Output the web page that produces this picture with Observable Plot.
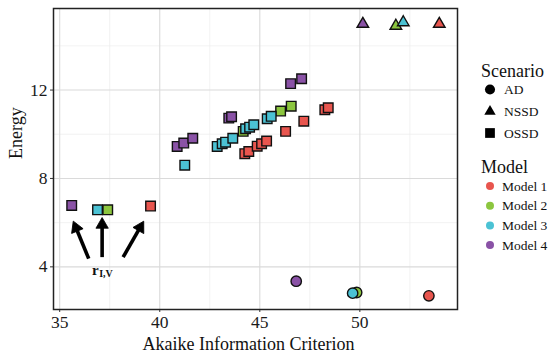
<!DOCTYPE html>
<html>
<head>
<meta charset="utf-8">
<script src="https://cdn.jsdelivr.net/npm/d3@7"></script>
<script src="https://cdn.jsdelivr.net/npm/@observablehq/plot@0.6"></script>
<style>
  body { margin: 0; background: white; }
  #wrap { position: relative; width: 550px; height: 361px; }
  #legend { position: absolute; left: 0; top: 0; }
</style>
</head>
<body>
<div id="wrap"></div>
<script>
// ---- data ----
const models = ["Model 1", "Model 2", "Model 3", "Model 4"];
const scenarios = ["AD", "NSSD", "OSSD"];
const colors = ["#E8554E", "#8CC63F", "#4BC2D4", "#8A52A6"];

// AD (circles), one per model
const adX = [53.45, 49.84, 49.64, 46.82];
const adY = [2.69, 2.84, 2.81, 3.35];
// NSSD (triangles), one per model
const nssdX = [53.97, 51.80, 52.17, 50.15];
const nssdY = [14.99, 14.90, 15.06, 14.99];
// OSSD (squares), per model
const ossd1X = [39.54, 44.25, 44.45, 44.87, 45.09, 45.34, 46.29, 47.20, 48.25, 48.42];
const ossd1Y = [6.75, 9.12, 9.22, 9.46, 9.57, 9.69, 10.13, 10.59, 11.11, 11.20];
const ossd2X = [37.40, 44.17, 46.04, 46.57];
const ossd2Y = [6.58, 10.13, 11.05, 11.27];
const ossd3X = [36.89, 41.25, 42.87, 43.12, 43.29, 43.65, 44.29, 44.49, 44.70, 45.37, 45.57];
const ossd3Y = [6.58, 8.60, 9.45, 9.57, 9.64, 9.82, 10.25, 10.32, 10.43, 10.70, 10.81];
const ossd4X = [35.60, 40.87, 41.20, 41.65, 43.45, 43.59, 46.54, 47.09];
const ossd4Y = [6.78, 9.45, 9.60, 9.82, 10.73, 10.79, 12.29, 12.51];

// x / y ticks
const xTicks = [35, 40, 45, 50];
const xMinor = [37.5, 42.5, 47.5, 52.5];
const yTicks = [4, 8, 12];
const yMinor = [6, 10, 14];

// annotation arrows (tail -> tip) and label
const arrowTailX = [36.45, 37.12, 38.17];
const arrowTailY = [4.37, 4.44, 4.44];
const arrowTipX = [35.70, 37.12, 39.17];
const arrowTipY = [6.02, 6.18, 6.02];
const labelX = 36.95, labelY = 3.87;

// ---- build table ----
const rows = [];
models.forEach((m, i) => rows.push({x: adX[i], y: adY[i], model: m, scenario: "AD"}));
models.forEach((m, i) => rows.push({x: nssdX[i], y: nssdY[i], model: m, scenario: "NSSD"}));
[[ossd1X, ossd1Y], [ossd2X, ossd2Y], [ossd3X, ossd3Y], [ossd4X, ossd4Y]].forEach(([xs, ys], i) => {
  xs.forEach((x, j) => rows.push({x, y: ys[j], model: models[i], scenario: "OSSD"}));
});
const ad = rows.filter(d => d.scenario === "AD");
const nssd = rows.filter(d => d.scenario === "NSSD");
const ossd = rows.filter(d => d.scenario === "OSSD");

const W = 550, H = 361, mL = 53, mR = 93, mT = 8, mB = 52;
const xDom = [34.69, 54.88], yDom = [2.07, 15.69];
const kx = (W - mL - mR) / (xDom[1] - xDom[0]);
const ky = (H - mT - mB) / (yDom[1] - yDom[0]);

const arrows = arrowTailX.map((tx, i) => {
  const ty = arrowTailY[i], hx = arrowTipX[i], hy = arrowTipY[i];
  const dx = (hx - tx) * kx, dy = -(hy - ty) * ky;
  const len = Math.hypot(dx, dy);
  const ux = dx / len, uy = dy / len;
  const back = 6;
  return {
    x1: tx, y1: ty,
    cx: hx - ux * back / kx, cy: hy + uy * back / ky,
    rot: Math.atan2(dx, -dy) * 180 / Math.PI
  };
});

const colorScale = {domain: models, range: colors};
const dotOpts = {x: "x", y: "y", fill: "model", stroke: "#111", strokeWidth: 1.4};

const chart = Plot.plot({
  width: W, height: H,
  marginLeft: mL, marginRight: mR, marginTop: mT, marginBottom: mB,
  x: {domain: xDom},
  y: {domain: yDom},
  color: colorScale,
  style: {fontFamily: "'Liberation Serif', 'Times New Roman', serif", fontSize: "17px", background: "white", color: "#1a1a1a"},
  marks: [
    Plot.gridX(xMinor, {stroke: "#ececec", strokeOpacity: 1, strokeWidth: 0.7}),
    Plot.gridY(yMinor, {stroke: "#ececec", strokeOpacity: 1, strokeWidth: 0.7}),
    Plot.gridX(xTicks, {stroke: "#dadada", strokeOpacity: 1, strokeWidth: 1.1}),
    Plot.gridY(yTicks, {stroke: "#dadada", strokeOpacity: 1, strokeWidth: 1.1}),
    Plot.axisX(xTicks, {tickSize: 3, tickPadding: 3, label: null, fontSize: 17.5, stroke: "#333"}),
    Plot.axisY(yTicks, {tickSize: 3, tickPadding: 3, label: null, fontSize: 17.5, stroke: "#333"}),
    Plot.text(["Akaike Information Criterion"], {frameAnchor: "bottom", lineAnchor: "middle", dy: 35, dx: -7, fontSize: 18, fill: "#111"}),
    Plot.text(["Energy"], {frameAnchor: "left", dx: -37, rotate: -90, fontSize: 18, fill: "#111"}),
    Plot.dot(ossd, {...dotOpts, symbol: "square", r: 5.4}),
    Plot.dot(ad, {...dotOpts, symbol: "circle", r: 5.2}),
    Plot.dot(nssd, {...dotOpts, symbol: "triangle", r: 4.3}),
    Plot.link(arrows, {x1: "x1", y1: "y1", x2: "cx", y2: "cy", stroke: "#000", strokeWidth: 3.6}),
    Plot.dot(arrows, {x: "cx", y: "cy", symbol: "triangle", r: 4.6, fill: "#000", stroke: "#000", strokeWidth: 0.8, rotate: "rot"}),
    Plot.text(["r"], {x: () => labelX, y: () => labelY, textAnchor: "end", fontWeight: "bold", fontSize: 15, fill: "#111"}),
    Plot.text(["I,V"], {x: () => labelX, y: () => labelY, textAnchor: "start", dy: 4, dx: 0.5, fontWeight: "bold", fontSize: 10, fill: "#111"}),
    Plot.frame({stroke: "#222", strokeWidth: 1.5})
  ]
});
const wrap = document.getElementById("wrap");
wrap.appendChild(chart);

// ---- legend (overlay) ----
const lg = d3.select(wrap).append("svg").attr("id", "legend")
  .attr("width", W).attr("height", H)
  .style("font-family", "'Liberation Serif', 'Times New Roman', serif");
lg.append("text").attr("x", 481).attr("y", 77).attr("font-size", 18).attr("fill", "#111").text("Scenario");
const shapeSyms = [d3.symbolCircle, d3.symbolTriangle, d3.symbolSquare];
const shapeSizes = [80, 56, 95];
const shapeY = [89.5, 111.5, 133];
scenarios.forEach((s, i) => {
  lg.append("path").attr("d", d3.symbol(shapeSyms[i], shapeSizes[i])())
    .attr("transform", `translate(490,${shapeY[i]})`).attr("fill", "#000");
  lg.append("text").attr("x", 504).attr("y", shapeY[i] + 4.5).attr("font-size", 13.5).attr("fill", "#111").text(s);
});
lg.append("text").attr("x", 481).attr("y", 173).attr("font-size", 18).attr("fill", "#111").text("Model");
const modelY = [186, 205.7, 225.4, 245];
models.forEach((m, i) => {
  lg.append("circle").attr("cx", 490).attr("cy", modelY[i]).attr("r", 4).attr("fill", colors[i]);
  lg.append("text").attr("x", 502).attr("y", modelY[i] + 4.5).attr("font-size", 13.5).attr("fill", "#111").text(m);
});
</script>
</body>
</html>
